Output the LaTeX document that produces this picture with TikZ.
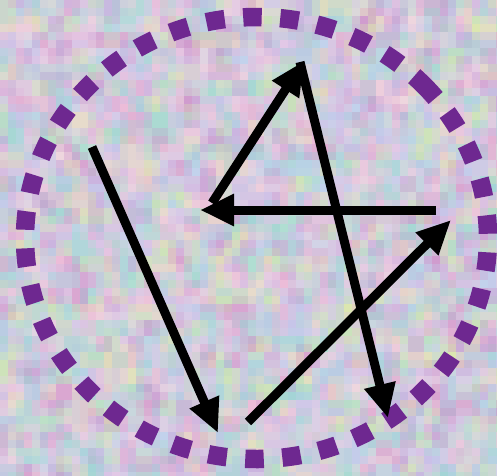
\documentclass[tikz,border=0pt]{standalone}
\usetikzlibrary{arrows.meta}
\definecolor{bg1}{RGB}{236,188,216}
\definecolor{bg2}{RGB}{176,222,210}
\definecolor{bg3}{RGB}{202,192,232}
\definecolor{bg4}{RGB}{220,230,176}
\definecolor{bg5}{RGB}{164,212,214}
\definecolor{bg6}{RGB}{208,156,206}
\definecolor{bg7}{RGB}{238,214,222}
\definecolor{bg8}{RGB}{194,210,236}
\definecolor{bg9}{RGB}{226,200,230}
\definecolor{dotpurple}{RGB}{110,40,144}
\tikzset{
  arr/.style={line width=9pt, -{Triangle[length=34pt,width=30pt]}},
  ring/.style={draw=dotpurple, line width=18.5pt, dash pattern=on 18.5pt off 18.6pt}
}
\begin{document}
\begin{tikzpicture}[x=1pt,y=-1pt]
\useasboundingbox (0,0) rectangle (497,475);
\begin{scope}
\clip (0,0) rectangle (497,475);
\pgfmathsetseed{23}
\foreach \i in {0,...,31}{
  \foreach \j in {0,...,30}{
    \pgfmathrandominteger{\c}{1}{9}
    \fill[fill=bg\c] (\i*16,\j*16) rectangle ++(16.4,16.4);
  }
}
\foreach \i in {0,...,32}{
  \foreach \j in {0,...,31}{
    \pgfmathrandominteger{\c}{1}{9}
    \fill[fill=bg\c, fill opacity=0.45] (\i*16-8,\j*16-8) rectangle ++(16,16);
  }
}
\foreach \i in {0,...,32}{
  \foreach \j in {0,...,30}{
    \pgfmathrandominteger{\c}{1}{9}
    \fill[fill=bg\c, fill opacity=0.3] (\i*16-8,\j*16) rectangle ++(16,16);
  }
}
\end{scope}
\draw[ring] (256.5,238) ++(-44:231.5 and 221) arc[start angle=-44, end angle=316, x radius=231.5, y radius=221];
\coordinate (a1) at (92,147);
\coordinate (a2) at (218,433);
\coordinate (b1) at (248,422);
\coordinate (b2) at (451,220);
\coordinate (c1) at (436,210);
\coordinate (c2) at (200,210);
\coordinate (d1) at (212,203);
\coordinate (d2) at (304,61);
\coordinate (e1) at (300,62);
\coordinate (e2) at (388,418);
\draw[arr] (a1) -- (a2);
\draw[arr] (b1) -- (b2);
\draw[arr] (c1) -- (c2);
\draw[arr] (d1) -- (d2);
\draw[arr] (e1) -- (e2);
\end{tikzpicture}
\end{document}
